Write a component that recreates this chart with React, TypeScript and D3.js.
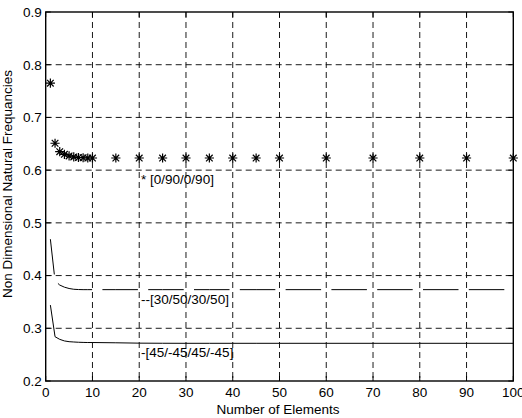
import React, { useEffect, useRef } from 'react';
import * as d3 from 'd3';

// number of elements used in the convergence study
const elements = [1, 2, 3, 4, 5, 6, 7, 8, 9, 10, 15, 20, 25, 30, 35, 40, 45, 50, 60, 70, 80, 90, 100];

// non dimensional natural frequencies per lay-up
const freqCross = [0.765, 0.651, 0.635, 0.630, 0.627, 0.625, 0.624, 0.6235, 0.623, 0.623, 0.623, 0.623, 0.623, 0.623, 0.623, 0.623, 0.623, 0.623, 0.623, 0.623, 0.623, 0.623, 0.623];
const freq3050 = [0.469, 0.39, 0.382, 0.378, 0.3755, 0.374, 0.3735, 0.3733, 0.3733, 0.3733, 0.3733, 0.3733, 0.3733, 0.3733, 0.3733, 0.3733, 0.3733, 0.3733, 0.3733, 0.3733, 0.3733, 0.3733, 0.3733];
const freq4545 = [0.344, 0.284, 0.279, 0.276, 0.2746, 0.274, 0.2735, 0.2732, 0.273, 0.273, 0.2725, 0.2718, 0.2716, 0.2715, 0.2715, 0.2715, 0.2715, 0.2715, 0.2715, 0.2715, 0.2715, 0.2715, 0.2715];

const xTicks = [0, 10, 20, 30, 40, 50, 60, 70, 80, 90, 100];
const yTicks = [0.2, 0.3, 0.4, 0.5, 0.6, 0.7, 0.8, 0.9];

const labels = [
  { text: '* [0/90/0/90]', n: 20.4, v: 0.574 },
  { text: '--[30/50/30/50]', n: 20.4, v: 0.346 },
  { text: '-[45/-45/45/-45]', n: 20.4, v: 0.2455 },
];

const W = 522;
const H = 418;
const FONT = '"Liberation Sans", Arial, sans-serif';

export default function App() {
  const svgRef = useRef<SVGSVGElement>(null);

  useEffect(() => {
    if (!svgRef.current) return;
    const svg = d3.select(svgRef.current);
    svg.selectAll('*').remove();

    const left = 45.7, right = 513.3, top = 12, bottom = 381;
    const x = d3.scaleLinear().domain([0, 100]).range([left, right]);
    const y = d3.scaleLinear().domain([0.2, 0.9]).range([bottom, top]);

    svg.append('rect').attr('width', W).attr('height', H).attr('fill', '#fff');

    // grid
    const grid = svg.append('g').attr('stroke', '#000').attr('stroke-width', 0.9).attr('stroke-dasharray', '6,4');
    xTicks.slice(1, -1).forEach(t => {
      grid.append('line').attr('x1', x(t)).attr('x2', x(t)).attr('y1', top).attr('y2', bottom);
    });
    yTicks.slice(1, -1).forEach(t => {
      grid.append('line').attr('x1', left).attr('x2', right).attr('y1', y(t)).attr('y2', y(t));
    });

    // inner ticks on all sides
    const ticks = svg.append('g').attr('stroke', '#000').attr('stroke-width', 1);
    xTicks.forEach(t => {
      ticks.append('line').attr('x1', x(t)).attr('x2', x(t)).attr('y1', bottom).attr('y2', bottom - 5);
      ticks.append('line').attr('x1', x(t)).attr('x2', x(t)).attr('y1', top).attr('y2', top + 5);
    });
    yTicks.forEach(t => {
      ticks.append('line').attr('x1', left).attr('x2', left + 5).attr('y1', y(t)).attr('y2', y(t));
      ticks.append('line').attr('x1', right).attr('x2', right - 5).attr('y1', y(t)).attr('y2', y(t));
    });

    // box
    svg.append('rect')
      .attr('x', left).attr('y', top)
      .attr('width', right - left).attr('height', bottom - top)
      .attr('fill', 'none').attr('stroke', '#000').attr('stroke-width', 1.4);

    const line = d3.line<number>()
      .x((_, i) => x(elements[i]))
      .y(d => y(d));

    svg.append('path')
      .datum(freq3050)
      .attr('d', line)
      .attr('fill', 'none').attr('stroke', '#000').attr('stroke-width', 1)
      .attr('stroke-dasharray', '35.5,10.3');

    svg.append('path')
      .datum(freq4545)
      .attr('d', line)
      .attr('fill', 'none').attr('stroke', '#000').attr('stroke-width', 1);

    // asterisk markers
    const r = 4.6;
    const k = r * 0.72;
    const star = `M${-r},0H${r}M0,${-r}V${r}M${-k},${-k}L${k},${k}M${-k},${k}L${k},${-k}`;
    svg.append('g')
      .selectAll('path')
      .data(freqCross)
      .join('path')
      .attr('transform', (d, i) => `translate(${x(elements[i])},${y(d)})`)
      .attr('d', star)
      .attr('stroke', '#000').attr('stroke-width', 1.2).attr('fill', 'none');

    // tick labels
    const tl = svg.append('g').attr('font-family', FONT).attr('font-size', 13.5).attr('fill', '#000');
    xTicks.forEach(t => {
      tl.append('text').attr('x', x(t)).attr('y', 397).attr('text-anchor', 'middle').text(String(t));
    });
    yTicks.forEach(t => {
      tl.append('text').attr('x', left - 4).attr('y', y(t)).attr('dy', '0.36em')
        .attr('text-anchor', 'end').text(d3.format('.1f')(t));
    });

    // axis titles
    tl.append('text').attr('x', 278).attr('y', 414).attr('text-anchor', 'middle').text('Number of Elements');
    tl.append('text')
      .attr('transform', 'translate(12,184) rotate(-90)')
      .attr('text-anchor', 'middle')
      .text('Non Dimensional Natural Frequancies');

    // curve labels
    labels.forEach(l => {
      tl.append('text').attr('x', x(l.n)).attr('y', y(l.v)).text(l.text);
    });
  }, []);

  return (
    <svg ref={svgRef} width={W} height={H} style={{ position: 'absolute', left: 0, top: 0 }} />
  );
}
